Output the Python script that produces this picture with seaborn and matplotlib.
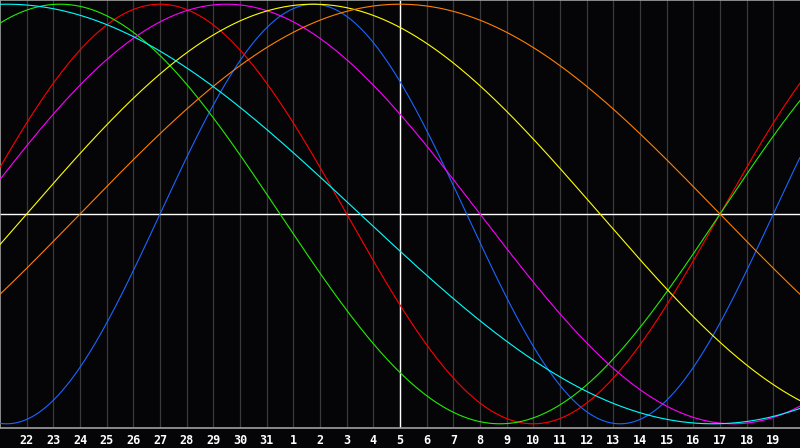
import numpy as np
import pandas as pd
import seaborn as sns
import matplotlib.pyplot as plt

# biorhythm cycles: period in days, day index where each cycle crosses zero going up
cycles = ["physical", "emotional", "intellectual", "intuitive", "aesthetic", "awareness", "spiritual"]
periods = [23, 28, 33, 38, 43, 48, 53]
zero_up_day = [6, 27, 27, -1, 1, 3, -13]
line_colors = ["#1a66ff", "#ff0000", "#22ee00", "#ff00ff", "#ffff00", "#ff8000", "#00ffff"]

# day labels along the bottom (index 1..29), today = index 15
day_labels = [22, 23, 24, 25, 26, 27, 28, 29, 30, 31,
              1, 2, 3, 4, 5, 6, 7, 8, 9, 10, 11, 12, 13, 14, 15, 16, 17, 18, 19]
today_index = 15
n_days = 30

t = np.linspace(0, n_days, 901)
rows = []
for name, p, z in zip(cycles, periods, zero_up_day):
    vals = np.sin(2 * np.pi * (t - z) / p)
    rows.append(pd.DataFrame({"day": t, "value": vals, "cycle": name}))
df = pd.concat(rows, ignore_index=True)

sns.set_style("dark")
fig = plt.figure(figsize=(8, 4.48), dpi=100, facecolor="#050508")
ax = fig.add_axes([0, 20 / 448, 1, 428 / 448])
ax.set_facecolor("#050508")

for i in range(1, n_days):
    ax.axvline(i, color="#3a3a3a", lw=0.9, zorder=1)
ax.axvline(today_index, color="white", lw=1.0, zorder=2)
ax.axhline(0, color="white", lw=1.0, zorder=2)

sns.lineplot(data=df, x="day", y="value", hue="cycle", hue_order=cycles,
             palette=dict(zip(cycles, line_colors)), lw=0.8, legend=False, ax=ax, zorder=3)

ax.set_xlim(0, n_days)
ax.set_ylim(-1.02, 1.02)
ax.set_xticks(range(1, n_days))
ax.set_xticklabels([str(d) for d in day_labels], color="white", fontsize=8.5,
                   fontweight="bold", family="DejaVu Sans Mono")
ax.set_yticks([])
ax.tick_params(axis="x", length=0, pad=4)
ax.set_xlabel("")
ax.set_ylabel("")
ax.grid(False)
for side in ["left", "bottom", "top"]:
    ax.spines[side].set_visible(True)
    ax.spines[side].set_color("#a0a0a0")
    ax.spines[side].set_linewidth(1.2)
ax.spines["right"].set_visible(False)

fig.savefig("out.png", dpi=100, facecolor=fig.get_facecolor())
